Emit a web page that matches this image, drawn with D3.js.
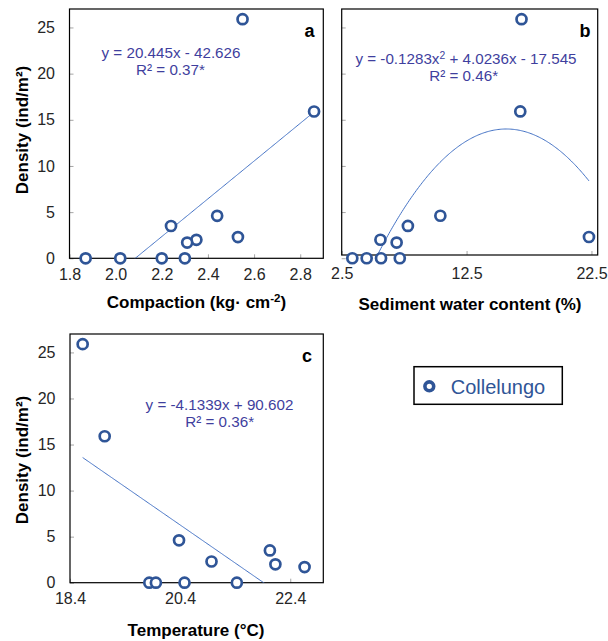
<!DOCTYPE html>
<html>
<head>
<meta charset="utf-8">
<script src="https://cdn.jsdelivr.net/npm/d3@7"></script>
<style>
  body { margin: 0; background: #fff; }
  svg { display: block; font-family: "Liberation Sans", Arial, sans-serif; }
</style>
</head>
<body>
<svg id="chart" width="608" height="641"></svg>
<script>
// Density of individuals at each sampling station (ind/m²)
const density = [25.9, 15.9, 4.6, 3.5, 2.3, 2.0, 1.7, 0, 0, 0, 0];
// Environmental variables measured at the same stations
const compaction = [2.55, 2.86, 2.44, 2.24, 2.53, 2.35, 2.31, 1.87, 2.02, 2.20, 2.30];
const waterContent = [16.9, 16.8, 10.4, 7.8, 22.3, 5.6, 6.9, 3.35, 4.5, 5.65, 7.15];
const temperature = [18.63, 19.03, 20.38, 22.03, 20.97, 22.13, 22.66, 19.84, 19.96, 20.48, 21.43];

// Fitted trendline coefficients (highest power first)
const fitCompaction = [20.445, -42.626];
const fitWater = [-0.1283, 4.0236, -17.545];
const fitTemperature = [-4.1339, 90.602];

// Tick values
const densityTicks = [0, 5, 10, 15, 20, 25];
const compactionTicks = [1.8, 2.0, 2.2, 2.4, 2.6, 2.8];
const waterTicks = [2.5, 12.5, 22.5];
const temperatureTicks = [18.4, 20.4, 22.4];

const seriesName = "Collelungo";

const svg = d3.select("#chart");
const blue = "#2F5597";
const lineBlue = "#4472C4";
const eqColor = "#3F3F9E";

const poly = (c, x) => c.reduce((acc, k) => acc * x + k, 0);

const panels = [
  {
    id: "a", xs: compaction, fit: fitCompaction,
    xDomain: [1.8, 2.9], xRange: [69.5, 323.3],
    yDomain: [0, 27], yRange: [258.3, 9],
    xTicks: compactionTicks, xFmt: d3.format(".1f"), xPad: 10,
    showY: true,
    eq: [{ parts: [["y = 20.445x - 42.626"]], x: 171, y: 52.6 },
         { parts: [["R² = 0.37*"]], x: 170.5, y: 69.3 }],
    letter: [309.5, 30.7],
    xTitle: [["Compaction (kg· cm"], ["-2", "sup"], [")"]], xTitlePos: [196.5, 301.7],
    yTitlePos: [21.7, 130]
  },
  {
    id: "b", xs: waterContent, fit: fitWater,
    xDomain: [2.5, 23], xRange: [341.7, 597.7],
    yDomain: [0.35, 27], yRange: [255, 9],
    xTicks: waterTicks, xFmt: d3.format(".1f"), xPad: 13,
    showY: false,
    eq: [{ parts: [["y = -0.1283x"], ["2", "sup"], [" + 4.0236x - 17.545"]], x: 466, y: 58.3 },
         { parts: [["R² = 0.46*"]], x: 463.7, y: 76 }],
    letter: [585, 30.7],
    xTitle: [["Sediment water content (%)"]], xTitlePos: [470, 303.5]
  },
  {
    id: "c", xs: temperature, fit: fitTemperature,
    xDomain: [18.4, 23.0], xRange: [70, 323.3],
    yDomain: [0, 27], yRange: [582.7, 334],
    xTicks: temperatureTicks, xFmt: d3.format(".1f"), xPad: 10,
    showY: true,
    eq: [{ parts: [["y = -4.1339x + 90.602"]], x: 219.5, y: 404.6 },
         { parts: [["R² = 0.36*"]], x: 219.7, y: 421.2 }],
    letter: [307, 355.5],
    xTitle: [["Temperature (°C)"]], xTitlePos: [196, 630],
    yTitlePos: [21.7, 460]
  }
];

function richText(sel, parts) {
  parts.forEach(([txt, kind]) => {
    const t = sel.append("tspan").text(txt);
    if (kind === "sup") t.attr("font-size", "0.68em").attr("baseline-shift", "super");
  });
}

panels.forEach(p => {
  const x = d3.scaleLinear().domain(p.xDomain).range(p.xRange);
  const y = d3.scaleLinear().domain(p.yDomain).range(p.yRange);
  const g = svg.append("g");
  const [x0, x1] = p.xRange, [y0, y1] = p.yRange;

  // inward tick marks and tick labels
  const xAxis = d3.axisBottom(x).tickValues(p.xTicks).tickFormat(p.xFmt)
    .tickSizeInner(-4).tickSizeOuter(0).tickPadding(p.xPad);
  const gx = g.append("g").attr("transform", `translate(0,${y0})`).call(xAxis);
  gx.select(".domain").remove();
  gx.selectAll("line").attr("stroke", "#a6a6a6");
  gx.selectAll("text").attr("font-size", 16).attr("fill", "#262626")
    .attr("font-family", "Liberation Sans, Arial, sans-serif");

  const yAxis = d3.axisLeft(y).tickValues(densityTicks)
    .tickSizeInner(-4).tickSizeOuter(0).tickPadding(14.5);
  const gy = g.append("g").attr("transform", `translate(${x0},0)`).call(yAxis);
  gy.select(".domain").remove();
  gy.selectAll("line").attr("stroke", "#a6a6a6");
  gy.selectAll("text").attr("font-size", 16).attr("fill", "#262626")
    .attr("font-family", "Liberation Sans, Arial, sans-serif");
  if (!p.showY) gy.selectAll("text").remove();

  // plot frame
  g.append("rect").attr("x", x0).attr("y", y1)
    .attr("width", x1 - x0).attr("height", y0 - y1)
    .attr("fill", "none").attr("stroke", "#000").attr("stroke-width", 1.2);

  // trendline, clipped to the plot area
  const clipId = "clip-" + p.id;
  svg.append("clipPath").attr("id", clipId).append("rect")
    .attr("x", x0).attr("y", y1).attr("width", x1 - x0).attr("height", y0 - y1);
  const [xmin, xmax] = d3.extent(p.xs);
  const pts = d3.range(0, 201).map(i => {
    const xv = xmin + (xmax - xmin) * i / 200;
    return [xv, poly(p.fit, xv)];
  });
  g.append("path").datum(pts)
    .attr("clip-path", `url(#${clipId})`)
    .attr("fill", "none").attr("stroke", lineBlue).attr("stroke-width", 1)
    .attr("d", d3.line().x(d => x(d[0])).y(d => y(d[1])));

  // data points
  g.selectAll("circle.pt").data(p.xs.map((xv, i) => [xv, density[i]]))
    .join("circle").attr("class", "pt")
    .attr("cx", d => x(d[0])).attr("cy", d => y(d[1])).attr("r", 5)
    .attr("fill", "#fff").attr("stroke", blue).attr("stroke-width", 2.7);

  // equation labels
  p.eq.forEach(e => {
    const t = g.append("text").attr("x", e.x).attr("y", e.y).attr("dy", "0.36em")
      .attr("text-anchor", "middle").attr("font-size", 15.2).attr("fill", eqColor);
    richText(t, e.parts);
  });

  // panel letter
  g.append("text").attr("x", p.letter[0]).attr("y", p.letter[1]).attr("dy", "0.36em")
    .attr("text-anchor", "middle").attr("font-size", 18).attr("font-weight", "bold")
    .attr("fill", "#000").text(p.id);

  // axis titles
  const xt = g.append("text").attr("x", p.xTitlePos[0]).attr("y", p.xTitlePos[1])
    .attr("dy", "0.36em").attr("text-anchor", "middle")
    .attr("font-size", 17).attr("font-weight", "bold").attr("fill", "#000");
  richText(xt, p.xTitle);

  if (p.yTitlePos) {
    g.append("text")
      .attr("transform", `translate(${p.yTitlePos[0]},${p.yTitlePos[1]}) rotate(-90)`)
      .attr("dy", "0.36em").attr("text-anchor", "middle")
      .attr("font-size", 17).attr("font-weight", "bold").attr("fill", "#000")
      .text("Density (ind/m²)");
  }
});

// legend
const lg = svg.append("g");
lg.append("rect").attr("x", 414).attr("y", 366.7).attr("width", 148.3).attr("height", 37.6)
  .attr("fill", "#fff").attr("stroke", "#000").attr("stroke-width", 1.5);
lg.append("circle").attr("cx", 429.3).attr("cy", 386.3).attr("r", 4.4)
  .attr("fill", "#fff").attr("stroke", blue).attr("stroke-width", 3.6);
lg.append("text").attr("x", 450.7).attr("y", 386.5).attr("dy", "0.36em")
  .attr("font-size", 20).attr("fill", blue).text(seriesName);
</script>
</body>
</html>
